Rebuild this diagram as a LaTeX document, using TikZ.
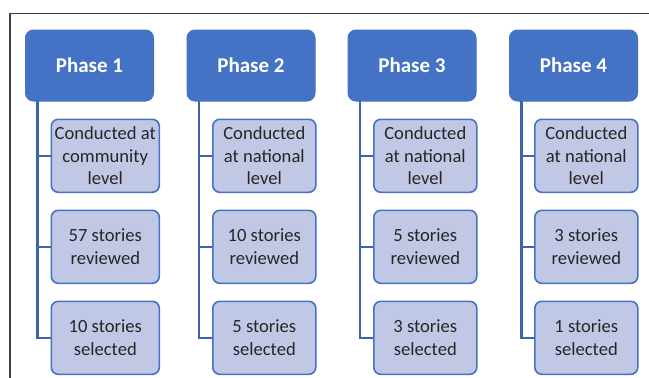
\documentclass[tikz,border=0pt]{standalone}
\usepackage{fontspec}
\setmainfont{Carlito}
\definecolor{phaseblue}{HTML}{4472C4}
\definecolor{itemfill}{HTML}{C0C8E6}
\definecolor{linkblue}{HTML}{3F64AE}
\definecolor{framegray}{HTML}{404040}
\begin{document}
\begin{tikzpicture}[x=1pt,y=-1pt,
  phasebox/.style={draw=phaseblue,fill=phaseblue,rounded corners=8pt,line width=1pt,
    minimum width=128pt,minimum height=71pt,inner sep=0pt,anchor=north west,
    text=white,font=\fontsize{21}{24}\selectfont\bfseries},
  itembox/.style={draw=phaseblue,fill=itemfill,rounded corners=7pt,line width=1.6pt,
    minimum height=73pt,inner sep=0pt,anchor=north west,align=center,
    text=black!85,font=\fontsize{18.6}{22.4}\selectfont},
  link/.style={draw=linkblue,line width=2.2pt}]
\useasboundingbox (0,0) rectangle (649,378);
% frame edges
\draw[framegray,line width=1.2pt] (10,378) -- (10,13.5) -- (649,13.5);

% Phase 1
\node[phasebox] (p1) at (25,29.5) {Phase 1};
\node[itembox,minimum width=108pt] (p1a) at (50.5,118.5) {Conducted at\\community\\level};
\node[itembox,minimum width=108pt] (p1b) at (50.5,209.5) {57 stories\\reviewed};
\node[itembox,minimum width=108pt] (p1c) at (50.5,300.5) {10 stories\\selected};
\coordinate (p1top) at (37.5,100.5);
\draw[link] (p1top) |- (p1c.west);
\draw[link] (p1top |- p1a.west) -- (p1a.west);
\draw[link] (p1top |- p1b.west) -- (p1b.west);

% Phase 2
\node[phasebox] (p2) at (186.5,29.5) {Phase 2};
\node[itembox,minimum width=103pt] (p2a) at (212,118.5) {Conducted\\at national\\level};
\node[itembox,minimum width=103pt] (p2b) at (212,209.5) {10 stories\\reviewed};
\node[itembox,minimum width=103pt] (p2c) at (212,300.5) {5 stories\\selected};
\coordinate (p2top) at (199,100.5);
\draw[link] (p2top) |- (p2c.west);
\draw[link] (p2top |- p2a.west) -- (p2a.west);
\draw[link] (p2top |- p2b.west) -- (p2b.west);

% Phase 3
\node[phasebox] (p3) at (347.5,29.5) {Phase 3};
\node[itembox,minimum width=103pt] (p3a) at (373,118.5) {Conducted\\at national\\level};
\node[itembox,minimum width=103pt] (p3b) at (373,209.5) {5 stories\\reviewed};
\node[itembox,minimum width=103pt] (p3c) at (373,300.5) {3 stories\\selected};
\coordinate (p3top) at (360,100.5);
\draw[link] (p3top) |- (p3c.west);
\draw[link] (p3top |- p3a.west) -- (p3a.west);
\draw[link] (p3top |- p3b.west) -- (p3b.west);

% Phase 4
\node[phasebox] (p4) at (509,29.5) {Phase 4};
\node[itembox,minimum width=103pt] (p4a) at (534,118.5) {Conducted\\at national\\level};
\node[itembox,minimum width=103pt] (p4b) at (534,209.5) {3 stories\\reviewed};
\node[itembox,minimum width=103pt] (p4c) at (534,300.5) {1 stories\\selected};
\coordinate (p4top) at (521.5,100.5);
\draw[link] (p4top) |- (p4c.west);
\draw[link] (p4top |- p4a.west) -- (p4a.west);
\draw[link] (p4top |- p4b.west) -- (p4b.west);
\end{tikzpicture}
\end{document}
